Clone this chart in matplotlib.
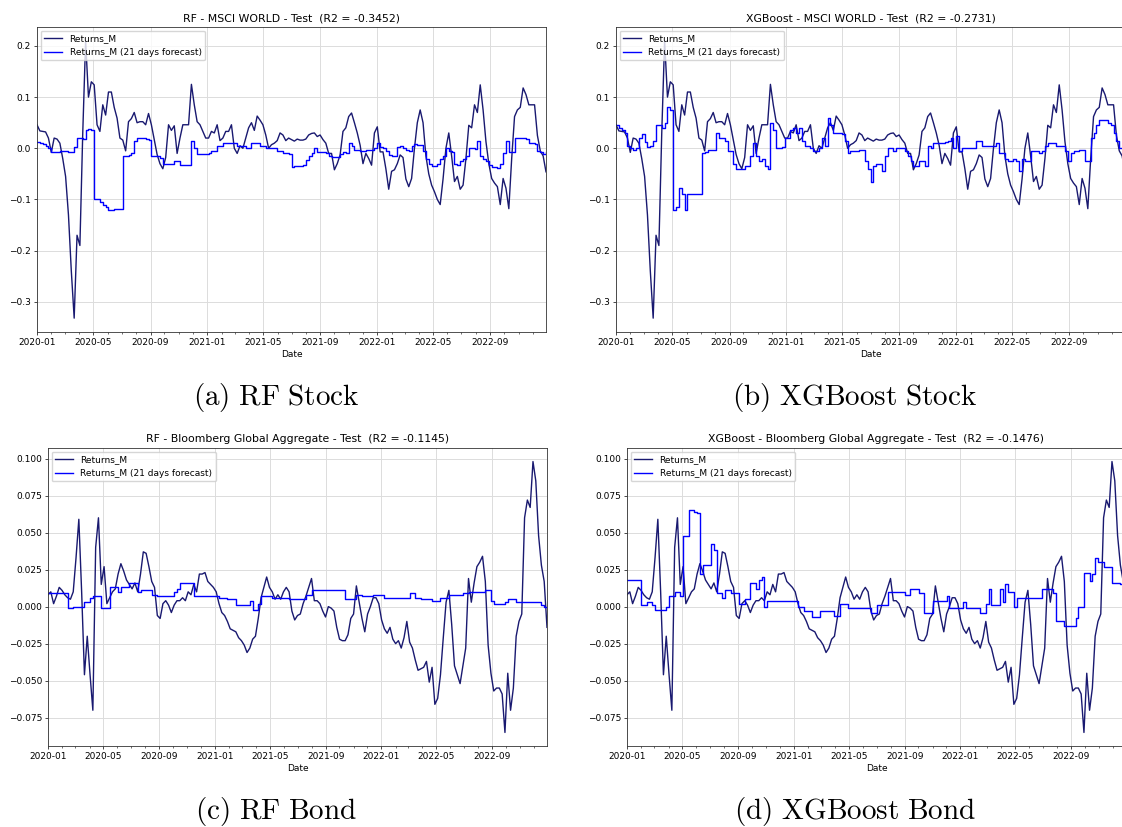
import pandas as pd
import matplotlib
matplotlib.use('Agg')
import matplotlib.pyplot as plt
import matplotlib.dates as mdates

START = '2020-01-01'
END = '2022-12-30'

# MSCI World rolling monthly return (shared by the two stock panels)
stock_ret = [
    0.046, 0.034, 0.033, 0.032, 0.020, -0.008, 0.020, 0.018, 0.010, -0.020,
    -0.055, -0.130, -0.240, -0.332, -0.170, -0.190, 0.030, 0.210, 0.100, 0.130,
    0.124, 0.046, 0.033, 0.085, 0.065, 0.110, 0.110, 0.080, 0.059, 0.020,
    0.016, -0.005, 0.052, 0.058, 0.070, 0.050, 0.052, 0.052, 0.046, 0.068,
    0.046, 0.017, -0.012, -0.030, -0.040, -0.018, 0.046, 0.035, 0.044, -0.010,
    0.020, 0.046, 0.046, 0.046, 0.125, 0.085, 0.052, 0.046, 0.033, 0.020,
    0.020, 0.033, 0.030, 0.046, 0.015, 0.020, 0.033, 0.033, 0.046, 0.000,
    -0.010, 0.005, 0.000, 0.020, 0.040, 0.050, 0.035, 0.063, 0.055, 0.046,
    0.026, 0.000, 0.007, 0.010, 0.015, 0.030, 0.026, 0.015, 0.020, 0.017,
    0.014, 0.018, 0.016, 0.016, 0.018, 0.026, 0.029, 0.030, 0.023, 0.026,
    0.017, 0.010, -0.010, -0.010, -0.042, -0.030, -0.013, 0.033, 0.040, 0.062,
    0.069, 0.050, 0.030, 0.006, -0.030, -0.010, -0.020, -0.033, 0.030, 0.042,
    -0.007, -0.007, -0.040, -0.080, -0.045, -0.042, -0.030, -0.013, -0.018, -0.060,
    -0.075, -0.059, 0.000, 0.050, 0.075, 0.050, -0.015, -0.050, -0.072, -0.085,
    -0.100, -0.110, -0.060, 0.000, 0.030, -0.015, -0.065, -0.055, -0.080, -0.072,
    -0.020, 0.045, 0.040, 0.085, 0.070, 0.124, 0.075, 0.013, -0.030, -0.059,
    -0.068, -0.075, -0.110, -0.059, -0.078, -0.118, -0.020, 0.062, 0.075, 0.080,
    0.118, 0.105, 0.085, 0.085, 0.085, 0.025, -0.005, -0.015, -0.046,
]

stock_rf = [
    0.012, 0.010, 0.008, 0.005, 0.000, -0.008, -0.008, -0.008, -0.005, -0.005,
    -0.005, -0.007, -0.007, 0.003, 0.020, 0.020, 0.018, 0.035, 0.038, 0.035,
    -0.100, -0.100, -0.105, -0.110, -0.115, -0.120, -0.120, -0.118, -0.118, -0.118,
    -0.015, -0.015, -0.013, -0.010, 0.015, 0.020, 0.020, 0.020, 0.018, 0.017,
    -0.015, -0.015, -0.015, -0.018, -0.030, -0.030, -0.030, -0.030, -0.025, -0.025,
    -0.033, -0.033, -0.033, -0.033, 0.015, 0.000, -0.012, -0.012, -0.012, -0.012,
    -0.010, -0.005, -0.005, 0.005, 0.005, 0.010, 0.010, 0.010, 0.010, 0.010,
    0.005, 0.005, 0.005, 0.000, 0.000, 0.010, 0.010, 0.010, 0.005, 0.005,
    0.000, 0.000, 0.000, 0.000, -0.005, -0.005, -0.010, -0.010, -0.012, -0.037,
    -0.035, -0.035, -0.035, -0.033, -0.022, -0.015, -0.010, 0.000, -0.007, -0.007,
    -0.008, -0.010, -0.015, -0.017, -0.017, -0.017, -0.012, -0.008, -0.010, 0.010,
    0.005, -0.003, -0.003, -0.005, -0.005, -0.003, -0.003, -0.003, 0.000, 0.010,
    0.003, 0.000, -0.005, -0.013, -0.015, -0.015, 0.003, 0.005, 0.000, -0.003,
    -0.005, 0.005, 0.008, 0.006, 0.006, -0.005, -0.020, -0.030, -0.035, -0.035,
    -0.030, -0.020, -0.015, 0.000, -0.005, -0.008, -0.030, -0.033, -0.025, -0.020,
    -0.015, 0.000, 0.000, -0.002, 0.015, -0.015, -0.020, -0.025, -0.033, -0.036,
    -0.036, -0.038, -0.030, -0.010, 0.015, -0.007, -0.007, 0.020, 0.020, 0.020,
    0.020, 0.018, 0.010, 0.010, 0.008, -0.005, -0.008, -0.012, -0.008,
]

stock_xgb = [
    0.045, 0.040, 0.035, 0.030, 0.005, 0.000, -0.003, 0.000, 0.020, 0.028,
    0.012, 0.002, 0.005, 0.015, 0.045, 0.045, 0.040, 0.050, 0.080, 0.075,
    -0.120, -0.115, -0.078, -0.090, -0.120, -0.090, -0.090, -0.090, -0.090, -0.090,
    -0.010, -0.008, -0.003, -0.003, -0.003, 0.030, 0.020, 0.020, 0.015, -0.005,
    -0.005, -0.030, -0.040, -0.040, -0.040, -0.035, -0.035, -0.015, 0.010, -0.015,
    -0.025, -0.020, -0.035, -0.040, 0.050, 0.035, 0.000, 0.000, 0.002, 0.020,
    0.020, 0.035, 0.040, 0.030, 0.040, 0.015, 0.005, 0.005, 0.000, -0.005,
    -0.005, 0.000, 0.020, 0.005, 0.060, 0.045, 0.030, 0.030, 0.030, 0.028,
    0.015, -0.010, -0.005, -0.005, -0.005, -0.003, -0.003, -0.025, -0.040, -0.065,
    -0.035, -0.030, -0.030, -0.045, -0.015, 0.000, 0.000, -0.005, 0.000, 0.000,
    0.000, -0.005, -0.015, -0.025, -0.035, -0.035, -0.025, -0.025, -0.035, 0.005,
    0.000, 0.010, 0.010, 0.010, 0.010, 0.012, 0.015, 0.020, 0.000, 0.025,
    -0.005, 0.000, 0.000, 0.000, 0.000, 0.000, 0.015, 0.015, 0.005, 0.005,
    0.005, 0.005, 0.005, 0.010, -0.010, -0.010, -0.020, -0.025, -0.025, -0.020,
    -0.025, -0.045, -0.020, -0.025, -0.025, -0.005, -0.005, -0.005, -0.010, -0.005,
    0.005, 0.010, 0.010, 0.010, 0.005, 0.005, 0.005, -0.005, -0.025, -0.010,
    -0.005, -0.005, -0.003, -0.003, -0.025, -0.025, 0.020, 0.030, 0.045, 0.055,
    0.055, 0.055, 0.050, 0.045, 0.030, 0.015, 0.000, 0.000, 0.000,
]

# Bloomberg Global Aggregate rolling monthly return (shared by the two bond panels)
bond_ret = [
    0.008, 0.010, 0.002, 0.007, 0.013, 0.011, 0.008, 0.006, 0.005, 0.010,
    0.033, 0.059, 0.010, -0.046, -0.020, -0.046, -0.070, 0.040, 0.060, 0.015,
    0.027, 0.002, 0.006, 0.010, 0.012, 0.022, 0.029, 0.024, 0.018, 0.015,
    0.012, 0.016, 0.010, 0.022, 0.037, 0.036, 0.027, 0.017, 0.013, -0.006,
    -0.008, 0.002, 0.004, 0.001, -0.004, 0.001, 0.004, 0.004, 0.006, 0.004,
    0.010, 0.008, 0.015, 0.010, 0.022, 0.022, 0.023, 0.017, 0.015, 0.013,
    0.010, 0.002, -0.004, -0.006, -0.010, -0.015, -0.016, -0.017, -0.021, -0.023,
    -0.026, -0.031, -0.028, -0.022, -0.020, -0.008, 0.006, 0.013, 0.020, 0.013,
    0.010, 0.005, 0.008, 0.005, 0.010, 0.013, 0.010, -0.003, -0.009, -0.006,
    -0.005, 0.002, 0.007, 0.013, 0.019, 0.004, 0.004, 0.002, -0.003, -0.007,
    0.000, -0.001, -0.003, -0.014, -0.022, -0.023, -0.023, -0.019, -0.008, -0.005,
    0.014, 0.003, -0.008, -0.017, -0.005, 0.000, 0.006, 0.006, 0.002, -0.009,
    -0.015, -0.018, -0.014, -0.022, -0.025, -0.023, -0.028, -0.021, -0.010, -0.024,
    -0.028, -0.036, -0.043, -0.042, -0.041, -0.037, -0.051, -0.041, -0.066, -0.062,
    -0.046, -0.021, 0.003, 0.011, -0.012, -0.040, -0.046, -0.052, -0.040, -0.028,
    0.019, 0.003, 0.016, 0.027, 0.030, 0.034, 0.017, -0.026, -0.045, -0.057,
    -0.055, -0.055, -0.059, -0.085, -0.045, -0.070, -0.055, -0.020, -0.010, -0.005,
    0.060, 0.072, 0.067, 0.098, 0.085, 0.048, 0.028, 0.017, -0.014,
]

bond_rf = [
    0.009, 0.009, 0.009, 0.009, 0.009, 0.009, 0.009, -0.001, -0.001, 0.000,
    0.000, 0.000, 0.000, 0.003, 0.003, 0.006, 0.007, 0.007, 0.007, -0.001,
    -0.001, -0.001, 0.013, 0.013, 0.013, 0.010, 0.013, 0.013, 0.013, 0.016,
    0.016, 0.016, 0.010, 0.011, 0.011, 0.011, 0.011, 0.008, 0.008, 0.007,
    0.007, 0.007, 0.007, 0.007, 0.007, 0.010, 0.012, 0.016, 0.016, 0.016,
    0.016, 0.016, 0.007, 0.007, 0.007, 0.007, 0.007, 0.007, 0.007, 0.007,
    0.007, 0.006, 0.006, 0.006, 0.005, 0.005, 0.005, 0.001, 0.001, 0.001,
    0.001, 0.001, 0.004, -0.002, -0.002, 0.002, 0.007, 0.007, 0.007, 0.007,
    0.006, 0.006, 0.006, 0.006, 0.006, 0.006, 0.005, 0.005, 0.005, 0.005,
    0.005, 0.005, 0.008, 0.008, 0.011, 0.011, 0.011, 0.011, 0.011, 0.011,
    0.011, 0.011, 0.011, 0.011, 0.011, 0.011, 0.005, 0.005, 0.005, 0.005,
    0.008, 0.008, 0.007, 0.007, 0.007, 0.007, 0.008, 0.008, 0.008, 0.008,
    0.006, 0.006, 0.006, 0.006, 0.006, 0.006, 0.006, 0.006, 0.006, 0.009,
    0.009, 0.006, 0.006, 0.005, 0.005, 0.005, 0.005, 0.004, 0.004, 0.004,
    0.006, 0.006, 0.006, 0.008, 0.008, 0.008, 0.008, 0.008, 0.009, 0.009,
    0.010, 0.010, 0.010, 0.010, 0.010, 0.010, 0.011, 0.011, 0.004, 0.002,
    0.002, 0.002, 0.002, 0.003, 0.005, 0.005, 0.005, 0.003, 0.003, 0.003,
    0.003, 0.003, 0.003, 0.003, 0.003, 0.003, 0.001, 0.000, 0.000,
]

bond_xgb = [
    0.018, 0.018, 0.018, 0.018, 0.018, 0.001, 0.001, 0.003, 0.003, 0.001,
    -0.002, -0.002, -0.002, -0.002, 0.000, 0.007, 0.007, 0.010, 0.010, 0.007,
    0.048, 0.048, 0.065, 0.065, 0.064, 0.063, 0.022, 0.028, 0.028, 0.028,
    0.042, 0.038, 0.009, 0.009, 0.006, 0.011, 0.011, 0.009, 0.009, 0.009,
    0.002, 0.002, 0.005, 0.005, 0.016, 0.016, 0.012, 0.018, 0.020, 0.000,
    0.004, 0.004, 0.004, 0.004, 0.004, 0.004, 0.004, 0.004, 0.004, 0.004,
    0.004, 0.000, 0.000, -0.003, -0.003, -0.003, -0.007, -0.007, -0.007, -0.003,
    -0.003, -0.003, -0.003, -0.003, -0.006, -0.006, 0.002, 0.002, 0.002, -0.001,
    -0.001, -0.001, -0.001, -0.001, -0.001, -0.001, -0.001, -0.004, -0.004, 0.001,
    0.001, 0.001, 0.001, 0.010, 0.010, 0.010, 0.010, 0.010, 0.010, 0.008,
    0.008, 0.012, 0.012, 0.012, 0.009, 0.009, -0.004, -0.004, -0.004, 0.004,
    0.004, 0.004, 0.004, 0.004, 0.007, -0.001, -0.001, -0.001, -0.001, -0.001,
    0.003, -0.001, -0.001, -0.001, -0.001, -0.001, -0.004, -0.004, 0.002, 0.012,
    0.001, 0.001, 0.001, 0.012, 0.003, 0.015, 0.010, 0.010, 0.000, 0.006,
    0.006, 0.006, 0.006, 0.006, 0.006, 0.006, 0.006, 0.006, 0.012, 0.012,
    0.012, 0.012, 0.009, -0.010, -0.010, -0.010, -0.013, -0.013, -0.013, -0.013,
    -0.008, 0.000, 0.000, 0.023, 0.023, 0.017, 0.022, 0.033, 0.030, 0.030,
    0.027, 0.027, 0.027, 0.016, 0.016, 0.016, 0.015, 0.015, 0.015,
]

titles = [
    'RF - MSCI WORLD - Test  (R2 = -0.3452)',
    'XGBoost - MSCI WORLD - Test  (R2 = -0.2731)',
    'RF - Bloomberg Global Aggregate - Test  (R2 = -0.1145)',
    'XGBoost - Bloomberg Global Aggregate - Test  (R2 = -0.1476)',
]
captions = ['(a) RF Stock', '(b) XGBoost Stock', '(c) RF Bond', '(d) XGBoost Bond']

W, H = 1122, 827
plt.rcParams['mathtext.fontset'] = 'cm'

fig = plt.figure(figsize=(W / 100, H / 100), dpi=100)


def box(left, top, right, bottom):
    # pixel box -> figure fraction
    return [left / W, 1 - bottom / H, (right - left) / W, (bottom - top) / H]


def dates_for(vals):
    return pd.date_range(START, END, periods=len(vals))


def draw(ax, actual, forecast, title):
    ax.plot(dates_for(actual), actual, color='midnightblue', lw=1.0, label='Returns_M')
    ax.plot(dates_for(forecast), forecast, color='blue', lw=1.0,
            drawstyle='steps-post', label='Returns_M (21 days forecast)')
    ax.set_title(title, fontsize=7.8, pad=4)
    ax.set_xlabel('Date', fontsize=6.5, labelpad=2)
    ax.xaxis.set_major_locator(mdates.MonthLocator(bymonth=[1, 5, 9]))
    ax.xaxis.set_major_formatter(mdates.DateFormatter('%Y-%m'))
    ax.xaxis.set_minor_locator(mdates.MonthLocator())
    ax.set_xlim(pd.Timestamp(START), pd.Timestamp(END))
    ax.grid(True, color='#dcdcdc', lw=0.7)
    ax.set_axisbelow(True)
    ax.tick_params(labelsize=6.5, length=2.3, width=0.5, pad=2)
    ax.tick_params(which='minor', length=1.3, width=0.4)
    for s in ax.spines.values():
        s.set_linewidth(0.6)
        s.set_color('#333333')
    ax.legend(loc='upper left', fontsize=6.5, borderaxespad=0.4)


ax_a = fig.add_axes(box(37, 27, 546, 332))
ax_b = fig.add_axes(box(616, 27, 1125, 332))
ax_c = fig.add_axes(box(48, 448, 547, 746))
ax_d = fig.add_axes(box(627, 448, 1126, 746))

draw(ax_a, stock_ret, stock_rf, titles[0])
draw(ax_b, stock_ret, stock_xgb, titles[1])
draw(ax_c, bond_ret, bond_rf, titles[2])
draw(ax_d, bond_ret, bond_xgb, titles[3])

cap_pos = [(276, 398), (855, 398), (276, 811), (855, 811)]
for cap, (cx, cy) in zip(captions, cap_pos):
    fig.text(cx / W, 1 - cy / H, r'$\mathrm{' + cap.replace(' ', r'\ ') + '}$',
             ha='center', va='center', fontsize=21)

fig.savefig('out.png', dpi=100)
